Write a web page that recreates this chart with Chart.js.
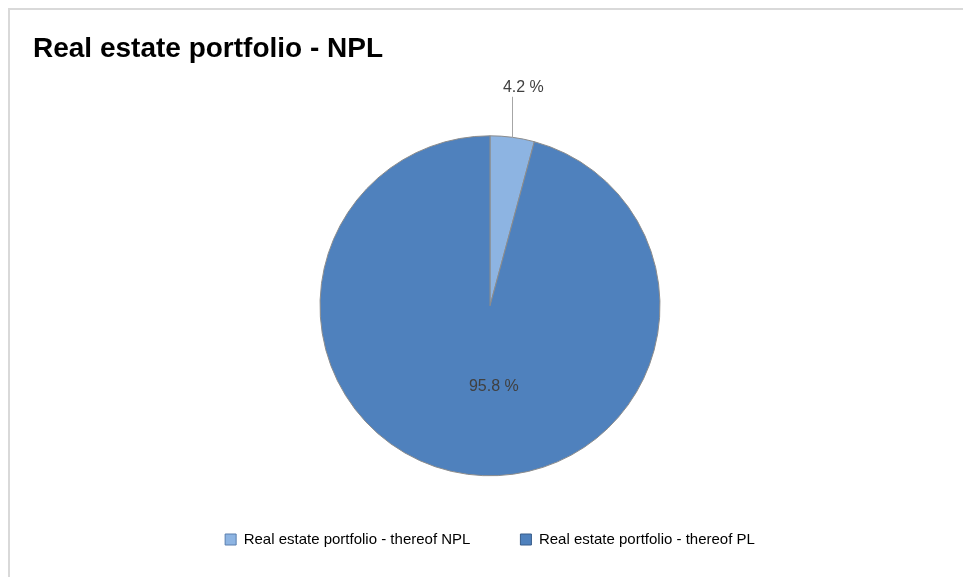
<!DOCTYPE html>
<html>
<head>
<meta charset="utf-8">
<title>Real estate portfolio - NPL</title>
<script src="https://cdn.jsdelivr.net/npm/chart.js@4/dist/chart.umd.min.js"></script>
<style>
	html, body { margin: 0; padding: 0; background: #fff; }
	#wrap { position: relative; width: 963px; height: 577px; }
</style>
</head>
<body>
<div id="wrap"><canvas id="npl" width="963" height="577"></canvas></div>
<script>
// portfolio split, in percent
const categories = ["Real estate portfolio - thereof NPL", "Real estate portfolio - thereof PL"];
const shares = [4.2, 95.8];

const sliceColors = ["#8db4e2", "#4f81bd"];
const boxBorders = ["#5a7fae", "#385d8a"];
const labelColor = "#404040";

Chart.defaults.font.family = "'Liberation Sans', Arial, sans-serif";

// light grey frame along the top and left edge
const frame = {
	id: "frame",
	beforeDraw(chart) {
		let ctx = chart.ctx;
		ctx.save();
		ctx.strokeStyle = "#d9d9d9";
		ctx.lineWidth = 2;
		ctx.beginPath();
		ctx.moveTo(9, chart.height);
		ctx.lineTo(9, 9);
		ctx.lineTo(chart.width, 9);
		ctx.stroke();
		ctx.restore();
	}
};

// percentage labels: small slices outside with a leader line, big ones inside
const sliceLabels = {
	id: "sliceLabels",
	afterDatasetsDraw(chart) {
		let ctx = chart.ctx;
		let arcs = chart.getDatasetMeta(0).data;
		ctx.save();
		ctx.font = "16px 'Liberation Sans', Arial, sans-serif";
		ctx.fillStyle = labelColor;
		ctx.textAlign = "center";
		ctx.textBaseline = "middle";
		arcs.forEach(function (arc, i) {
			let p = arc.getProps(["x", "y", "startAngle", "endAngle", "outerRadius"], true);
			let mid = (p.startAngle + p.endAngle) / 2;
			let text = shares[i].toFixed(1) + " %";
			if (shares[i] < 10) {
				let ex = p.x + Math.cos(mid) * p.outerRadius;
				let ey = p.y + Math.sin(mid) * p.outerRadius;
				let topY = p.y - p.outerRadius - 39;
				ctx.strokeStyle = "#a6a6a6";
				ctx.lineWidth = 1;
				ctx.beginPath();
				ctx.moveTo(Math.round(ex) + 0.5, ey);
				ctx.lineTo(Math.round(ex) + 0.5, topY);
				ctx.stroke();
				ctx.fillText(text, ex + 11, topY - 9);
			} else {
				let r = p.outerRadius * 0.5;
				ctx.fillText(text, p.x + Math.cos(mid) * r + 15, p.y + Math.sin(mid) * r - 3);
			}
		});
		ctx.restore();
	}
};

let chart = new Chart(document.getElementById("npl"), {
	type: "pie",
	data: {
		labels: categories,
		datasets: [{
			data: shares,
			backgroundColor: sliceColors,
			borderColor: "#8c8c8c",
			borderWidth: 1
		}]
	},
	options: {
		responsive: false,
		animation: false,
		radius: 170,
		layout: {
			padding: { left: 33, right: 16, top: 0, bottom: 20 }
		},
		plugins: {
			title: {
				display: true,
				text: "Real estate portfolio - NPL",
				align: "start",
				color: "#000",
				font: { size: 28, weight: "bold" },
				padding: { top: 32, bottom: 64 }
			},
			legend: {
				position: "bottom",
				labels: {
					boxWidth: 11,
					boxHeight: 11,
					padding: 50,
					color: "#595959",
					font: { size: 15 },
					generateLabels(c) {
						return categories.map(function (name, i) {
							return {
								text: name,
								fillStyle: sliceColors[i],
								strokeStyle: boxBorders[i],
								lineWidth: 1,
								index: i
							};
						});
					}
				}
			},
			tooltip: { enabled: false }
		}
	},
	plugins: [frame, sliceLabels]
});
</script>
</body>
</html>
